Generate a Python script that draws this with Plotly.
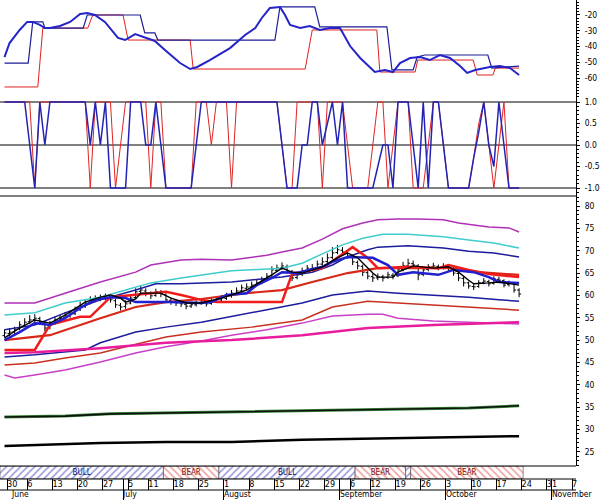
import plotly.graph_objects as go

FONT = "Liberation Sans Narrow, Arial Narrow, DejaVu Sans Condensed, Liberation Sans, sans-serif"

# ---------------- data ----------------
bars = list(range(103))
opens = [51.0,51.5,51.9,52.5,53.3,54.1,54.6,54.8,53.8,52.8, 53.7,54.4,55.0,55.5,55.9,56.8,57.5,58.4,59.0,59.3,
         59.5,59.4,58.8,57.8,57.5,58.3,59.5,60.9,61.0,60.4, 60.0,60.7,60.1,58.9,58.4,58.3,58.0,57.6,57.9,58.2,
         58.5,58.2,58.7,59.0,59.3,59.9,60.5,61.0,61.6,61.9, 62.3,62.8,63.5,64.4,65.6,66.1,66.4,65.2,64.0,64.7,
         65.6,66.0,66.2,67.0,67.6,68.5,69.6,70.1,69.6,68.7, 67.4,66.5,65.1,64.2,63.9,64.1,64.0,64.5,64.4,65.8,
         66.6,67.1,66.6,64.7,65.8,66.4,66.5,66.2,66.5,66.0, 64.9,63.8,62.8,62.0,62.0,62.9,63.1,62.7,63.6,63.3,
         62.4,62.7,61.2]
highs = [52.4,52.6,53.0,54.2,54.9,55.6,55.8,55.2,54.2,54.3, 55.3,55.6,56.3,56.6,57.5,58.6,59.0,59.8,60.0,60.2,
         60.4,59.9,59.2,58.3,58.9,60.0,61.6,62.3,61.6,60.9, 61.5,61.2,60.5,59.5,59.0,58.9,58.5,58.6,58.9,59.2,
         58.9,59.4,59.7,60.1,60.6,61.2,61.8,62.4,62.7,63.1, 63.6,64.2,65.0,66.5,66.9,67.4,66.9,65.7,65.3,66.2,
         66.8,67.0,67.8,68.5,69.4,70.8,71.3,70.8,70.1,69.0, 67.8,66.9,65.6,64.9,64.9,64.6,65.3,65.0,66.4,67.5,
         68.2,67.8,67.0,66.3,67.0,67.3,66.9,67.2,67.0,66.4, 65.4,64.2,63.1,62.7,63.4,63.9,63.5,64.3,64.2,63.6,
         63.3,63.0,61.6]
lows = [50.6,50.9,51.3,52.2,53.0,53.6,54.0,53.4,52.0,52.4, 53.4,54.0,54.6,55.0,55.6,56.5,57.2,58.0,58.5,58.7,
        58.9,58.4,57.2,56.6,57.0,58.0,59.2,60.4,59.8,59.2, 59.7,59.6,58.5,57.9,57.6,57.4,56.9,57.2,57.5,57.9,
        57.5,57.9,58.3,58.7,59.0,59.5,60.2,60.7,61.2,61.5, 62.0,62.5,63.2,64.1,65.3,65.7,64.9,63.2,63.6,64.3,
        65.2,65.5,65.9,66.7,67.2,68.1,69.2,69.0,68.2,66.8, 65.8,64.3,63.6,63.0,63.4,63.1,63.7,63.6,64.1,65.4,
        66.2,66.0,63.4,64.3,65.4,66.0,65.6,65.8,65.5,64.4, 63.2,62.0,61.5,61.2,61.7,62.5,62.0,62.4,62.9,61.8,
        62.0,60.6,59.6]
closes = [51.6,51.8,52.3,53.4,54.0,54.5,54.9,54.0,52.7,53.6, 54.5,54.9,55.4,55.8,56.7,57.6,58.3,59.0,59.2,59.4,
          59.6,59.0,57.9,57.4,58.1,59.4,60.8,61.2,60.5,59.9, 60.8,60.3,59.0,58.5,58.3,58.1,57.6,57.9,58.3,58.5,
          58.1,58.7,59.0,59.4,59.9,60.5,61.0,61.7,61.9,62.3, 62.8,63.4,64.3,65.7,66.1,66.6,65.5,63.9,64.6,65.5,
          66.1,66.1,67.0,67.5,68.4,69.5,70.2,69.7,68.8,67.5, 66.6,65.2,64.3,63.9,64.1,63.9,64.6,64.3,65.7,66.6,
          67.2,66.8,64.6,65.7,66.4,66.6,66.1,66.6,66.1,65.0, 63.9,62.8,62.1,61.9,62.8,63.2,62.6,63.7,63.4,62.3,
          62.8,61.2,60.3]

# main panel lines (bar index, value)
mag_up_x = [0,6,12,19,26,29,35,39,45,49,52,55,59,63,67,71,74,78,82,87,90,96,100,102]
mag_up_y = [58.3,58.3,60.5,63.0,65.2,66.8,67.9,68.1,67.9,68.6,69.0,69.7,70.6,72.6,74.9,76.2,76.9,77.1,77.1,76.9,76.2,75.3,75.1,74.2]
cyan_x = [0,6,12,19,24,29,35,39,45,55,59,63,67,71,75,80,87,92,97,102]
cyan_y = [55.6,56.1,58.3,59.6,61.2,62.8,63.9,64.6,65.5,66.1,67.2,69.3,71.3,72.8,73.7,73.7,73.1,72.4,71.7,70.6]
navy_up_x = [0,6,12,19,26,30,35,45,55,61,65,68,72,74,80,87,92,97,102]
navy_up_y = [52.3,53.4,56.1,59.0,61.2,62.6,62.6,63.0,64.1,65.2,66.8,68.6,70.2,70.8,71.1,70.6,69.9,69.5,68.6]
black_ma_x = [0,3,6,9,12,16,19,21,23,24,26,27,31,33,36,39,43,48,53,55,57,59,63,66,68,70,73,74,77,78,81,83,85,88,90,92,93,96,98,102]
black_ma_y = [50.5,52.7,54.5,53.8,55.6,58.5,59.6,60.1,59.4,58.5,59.2,60.5,60.5,59.4,58.3,58.3,59.4,61.2,64.6,66.1,
              65.2,65.0,66.4,68.4,69.5,68.4,65.0,64.1,64.1,65.2,66.6,66.4,66.1,66.4,65.2,63.4,62.6,62.8,63.0,62.3]
blue_ma_x = [0,3,6,9,12,15,18,21,24,26,29,33,39,41,44,48,50,53,55,58,63,65,68,73,76,78,81,84,86,89,93,96,98,102]
blue_ma_y = [50.0,51.8,53.8,53.4,54.9,57.2,59.0,59.6,59.4,58.5,58.5,58.5,58.3,58.5,60.1,60.5,62.3,63.9,65.2,65.0,
             66.4,67.5,68.6,68.4,66.8,64.6,65.2,64.8,64.6,65.7,65.2,64.1,63.0,62.8]
red_step_x = [0,6,9,15,17,21,29,32,35,39,42,55,57,63,69,72,74,80,86,88,92,96,102]
red_step_y = [47.8,47.8,53.4,55.2,55.2,59.6,60.5,60.8,60.1,59.0,58.5,58.5,64.8,66.1,70.8,68.4,66.1,66.4,66.1,66.8,65.7,64.8,64.1]
red_slow_x = [0,9,19,26,32,39,48,55,61,68,74,81,88,94,102]
red_slow_y = [50.0,51.1,54.9,57.4,58.5,59.2,60.5,61.2,63.0,65.0,66.1,66.1,66.1,65.2,64.6]
navy_lo_x = [0,6,16,19,26,32,39,49,59,65,72,78,85,92,98,102]
navy_lo_y = [46.2,46.7,47.8,49.4,51.8,52.9,54.0,56.1,58.3,60.1,61.0,60.5,60.1,59.6,59.0,58.7]
red_lo_x = [0,6,12,19,24,32,39,49,59,65,72,78,85,92,102]
red_lo_y = [44.4,44.9,46.0,47.1,48.5,50.7,51.8,52.9,54.5,57.4,58.7,58.3,57.9,57.4,56.7]
pink_lo_x = [0,2,6,12,19,26,32,39,45,52,59,65,72,75,78,85,92,102]
pink_lo_y = [42.2,41.5,42.2,43.3,45.1,47.1,48.5,49.8,51.1,52.3,53.8,55.4,55.8,55.8,54.9,54.3,54.0,53.6]
mag_lo_x = [0,6,19,32,45,52,59,72,85,102]
mag_lo_y = [47.1,47.3,48.2,49.4,50.0,50.5,51.1,52.7,53.4,54.0]
green_x = [0,12,21,32,45,59,78,92,102]
green_y = [32.8,33.0,33.5,33.7,33.9,34.1,34.6,34.8,35.3]
black_lo_x = [0,6,19,32,45,59,72,85,93,102]
black_lo_y = [26.3,26.5,27.0,27.2,27.2,27.7,27.9,28.1,28.3,28.5]

# top panel oscillator
wr_x = [0,1,3,4.5,5.6,7,8,9,11,13,15,16.4,17.9,19.9,22.5,23.9,25.9,27.8,29.8,31.8,34.8,36.8,38.2,40.7,44.7,
        47.7,49.7,51,52.6,54.6,55.6,56.6,58.6,60.5,62.5,64.5,66.5,68.5,70.5,73.4,75.4,77,78.4,80.4,82.4,
        84.3,86.3,88.3,90.3,91.7,93.3,96.2,98.2,100.2,102]
wr_y = [-46.7,-37.8,-29.5,-24.4,-24.4,-26.3,-28.3,-28.3,-27.0,-24.4,-19.4,-18.7,-20.0,-24.4,-34.6,-35.9,-32.1,
        -34.0,-36.5,-42.2,-50.5,-54.3,-53.0,-48.6,-41.0,-32.7,-28.3,-21.9,-15.6,-14.9,-20.0,-26.3,-28.3,-27.0,
        -29.5,-28.3,-28.3,-39.7,-47.3,-56.2,-54.9,-56.2,-50.5,-47.3,-46.7,-48.6,-45.4,-47.3,-52.4,-56.8,-54.9,
        -53.0,-52.4,-53.7,-58.1]
wr_hi_x = [0,4.7,5.6,7.6,8.0,15.6,16.4,26.9,27.8,29.8,30.4,53.6,54.6,61.5,62.5,75.8,76.8,81.0,81.8,83.3,95.8,96.6,102]
wr_hi_y = [-50.5,-50.5,-24.4,-24.4,-28.3,-28.3,-20.0,-20.0,-31.4,-31.4,-35.9,-35.9,-14.9,-14.9,-27.6,-27.6,
           -54.9,-54.9,-46.7,-45.4,-45.4,-53.7,-52.4]
wr_lo_x = [0,6.6,7.6,16.5,17.5,23.5,24.5,36.8,37.4,59.6,61.0,73.8,74.4,81.4,81.9,92.9,93.7,96.8,97.3,102]
wr_lo_y = [-65.7,-65.7,-28.3,-28.3,-20.0,-20.0,-35.9,-35.9,-54.3,-54.3,-29.5,-29.5,-56.2,-56.2,-48.6,-48.6,
           -58.1,-58.1,-53.7,-53.7]

# middle panel signals (per bar)
sig_blue = [1,1,1,1,1,0,-1,1,0,1, 1,1,1,1,1,1,1,0,1,0, 1,-1,-1,-1,-1,1,1,1,0,0,
            1,0,-1,-1,-1,-1,-1,-1,0,1, 1,1,1,1,1,1,1,1,1,1, 1,1,1,1,1,0,-1,-1,-1,0,
            0,1,1,0,0.5,1,0,1,-1,-1, -1,-1,-1,-1,-0.5,0,0,-1,1,1, 1,0,-1,1,-1,1,1,0,-1,-1,
            -1,-1,-1,-0.3,0.3,1,0,-0.5,1,0, -1,-1,-1]
sig_red = [1,1,1,1,1,1,-1,1,1,1, 1,1,1,1,1,1,1,-1,1,1, 1,1,-1,0,1,1,1,1,1,-1,
           1,1,-1,-1,-1,-1,-1,-1,1,1, 1,0,1,1,1,-1,1,1,1,1, 1,1,1,1,1,0,-1,-1,1,1,
           1,1,1,-1,1,1,1,1,0,-1, -1,-1,-1,0,1,1,-1,0,1,1, 1,-1,-1,-1,0,1,1,0,-1,-1,
           -1,-1,-1,-0.3,0.5,1,0,-1,0,1, -1,-1,-1]

# bull / bear strip
seg_start = [-0.9, 31.5, 42.5, 69.5, 79.5, 80.5]
seg_end = [31.5, 42.5, 69.5, 79.5, 80.5, 102.8]
seg_state = ["BULL", "BEAR", "BULL", "BEAR", "BULL", "BEAR"]

# date axis
week_bars = [1,5,10,15,20,25,29,34,39,44,49,54,59,64,69,73,78,83,88,93,98,103,108,113]
week_labels = ["30","6","13","20","27","5","11","18","25","1","8","15","22","29",
               "6","12","19","26","3","10","17","24","31","7"]
month_bars = [2,24,44,67,88,109]
month_labels = ["June","July","August","September","October","November"]

# axis tick labels
wr_ticks = [-20, -30, -40, -50, -60]
wr_ticktext = ["-20", "-30", "-40", "-50", "-60"]
sig_ticks = [1, 0.5, 0, -0.5, -1]
sig_ticktext = ["1.0", "0.5", "0.0", "-0.5", "-1.0"]
price_ticks = [25, 30, 35, 40, 45, 50, 55, 60, 65, 70, 75, 80]

XR = [-0.892, 113.28]

# ---------------- figure ----------------
fig = go.Figure()

def line(x, y, color, width, axis):
    fig.add_trace(go.Scatter(x=x, y=y, mode="lines", line=dict(color=color, width=width),
                             xaxis="x", yaxis=axis, hoverinfo="skip", showlegend=False))

# top panel
line(wr_lo_x, wr_lo_y, "#e02020", 1, "y")
line(wr_hi_x, wr_hi_y, "#1e1e96", 1.2, "y")
line(wr_x, wr_y, "#2424c8", 2, "y")

# middle panel
line(bars, sig_red, "#e02424", 1, "y2")
line(bars, sig_blue, "#2424b4", 1.5, "y2")

# main panel bands
line(mag_up_x, mag_up_y, "#b030b8", 1.5, "y3")
line(cyan_x, cyan_y, "#40cccc", 1.5, "y3")
line(navy_up_x, navy_up_y, "#1c1c9c", 1.5, "y3")
line(pink_lo_x, pink_lo_y, "#c840c8", 1.5, "y3")
line(red_lo_x, red_lo_y, "#c83020", 1.5, "y3")
line(navy_lo_x, navy_lo_y, "#1c1c9c", 1.5, "y3")
line(mag_lo_x, mag_lo_y, "#e81c9c", 2.5, "y3")
line(green_x, green_y, "#3c8c3c", 3, "y3")
line(green_x, green_y, "#101010", 1.6, "y3")
line(black_lo_x, black_lo_y, "#000000", 2.5, "y3")
line(red_slow_x, red_slow_y, "#d82818", 2.2, "y3")
line(red_step_x, red_step_y, "#f01c1c", 2.5, "y3")
line(blue_ma_x, blue_ma_y, "#2020d0", 2.5, "y3")
line(black_ma_x, black_ma_y, "#000000", 1.4, "y3")

fig.add_trace(go.Ohlc(x=bars, open=opens, high=highs, low=lows, close=closes,
                      increasing=dict(line=dict(color="black", width=1)),
                      decreasing=dict(line=dict(color="black", width=1)),
                      tickwidth=0.4, xaxis="x", yaxis="y3", hoverinfo="skip", showlegend=False))

# strip
centers = [(a + b) / 2 for a, b in zip(seg_start, seg_end)]
widths = [b - a for a, b in zip(seg_start, seg_end)]
shapes_p = ["/" if s == "BULL" else "\\" for s in seg_state]
fg = ["#2c2cb8" if s == "BULL" else "#e03c3c" for s in seg_state]
txt = [s if w > 5 else "" for s, w in zip(seg_state, widths)]
tcol = ["#101060" if s == "BULL" else "#801010" for s in seg_state]
fig.add_trace(go.Bar(x=centers, y=[1] * len(centers), base=0, width=widths,
                     marker=dict(color="white",
                                 pattern=dict(shape=shapes_p, fgcolor=fg, bgcolor="white",
                                              size=5, solidity=0.3),
                                 line=dict(color="#404040", width=0.6)),
                     text=txt, textposition="inside", insidetextanchor="middle",
                     textangle=0, constraintext="none",
                     textfont=dict(size=8, color=tcol, family=FONT),
                     xaxis="x", yaxis="y4", hoverinfo="skip", showlegend=False))

# date labels
fig.add_trace(go.Scatter(x=[b - 0.5 for b in week_bars], y=[0.5] * len(week_bars),
                         mode="text", text=week_labels, textposition="middle right",
                         textfont=dict(size=9, family=FONT, color="black"),
                         xaxis="x", yaxis="y5", hoverinfo="skip", showlegend=False,
                         cliponaxis=False))
fig.add_trace(go.Scatter(x=[b - 0.5 for b in month_bars], y=[0.5] * len(month_bars),
                         mode="text", text=month_labels, textposition="middle right",
                         textfont=dict(size=8.5, family=FONT, color="black"),
                         xaxis="x2", yaxis="y6", hoverinfo="skip", showlegend=False,
                         cliponaxis=False))

row_ticks = sorted(set([b - 0.5 for b in week_bars] + [b - 0.5 for b in month_bars[1:]]))

ax_common = dict(side="right", anchor="x", showline=True, linecolor="black", linewidth=1,
                 ticks="outside", ticklen=3, tickcolor="black", showgrid=False, zeroline=False,
                 tickfont=dict(size=8.5, family=FONT, color="black"), automargin=False,
                 ticklabelstandoff=3, fixedrange=True)

fig.update_layout(
    width=600, height=500,
    margin=dict(l=0, r=24, t=0, b=0),
    paper_bgcolor="white", plot_bgcolor="white",
    showlegend=False, hovermode=False, bargap=0,
    font=dict(family=FONT, size=9, color="black"),
    xaxis=dict(domain=[0, 1], range=XR, anchor="y5", showgrid=False, zeroline=False,
               tickmode="array", tickvals=row_ticks, ticks="inside", ticklen=11,
               tickcolor="black", tickwidth=1, showticklabels=False, showline=False,
               rangeslider=dict(visible=False), fixedrange=True),
    xaxis2=dict(domain=[0, 1], range=XR, anchor="y6", showgrid=False, zeroline=False,
                tickmode="array", tickvals=[b - 0.5 for b in month_bars[1:]], ticks="inside",
                ticklen=10, tickcolor="black", tickwidth=1, showticklabels=False,
                showline=False, fixedrange=True),
    yaxis=dict(domain=[0.8, 1.0], range=[-73.97, -10.48],
               tickmode="array", tickvals=wr_ticks, ticktext=wr_ticktext,
               minor=dict(dtick=2, ticks="outside", ticklen=2, tickcolor="black", showgrid=False),
               **ax_common),
    yaxis2=dict(domain=[0.608, 0.8], range=[-1.186, 1.0465],
                tickmode="array", tickvals=sig_ticks, ticktext=sig_ticktext,
                minor=dict(dtick=0.1, ticks="outside", ticklen=2, tickcolor="black", showgrid=False),
                **ax_common),
    yaxis3=dict(domain=[0.068, 0.608], range=[21.83, 82.24],
                tickmode="array", tickvals=price_ticks,
                minor=dict(dtick=1, ticks="outside", ticklen=2, tickcolor="black", showgrid=False),
                **ax_common),
    yaxis4=dict(domain=[0.042, 0.068], range=[0, 1], anchor="x", visible=False, fixedrange=True),
    yaxis5=dict(domain=[0.02, 0.042], range=[0, 1], anchor="x", visible=False, fixedrange=True),
    yaxis6=dict(domain=[0.0, 0.02], range=[0, 1], anchor="x2", visible=False, fixedrange=True),
)

# reference lines of the signal panel and panel separators
for lvl in [1, 0, -1]:
    fig.add_shape(type="line", xref="paper", yref="y2", x0=0, x1=1, y0=lvl, y1=lvl,
                  line=dict(color="black", width=1), layer="below")
for yp in [0.608, 0.068, 0.042, 0.02]:
    fig.add_shape(type="line", xref="paper", yref="paper", x0=0, x1=1, y0=yp, y1=yp,
                  line=dict(color="black", width=1))

fig.write_html("out.html", config={"displayModeBar": False, "staticPlot": True},
               post_script="document.body.style.margin='0';document.body.style.overflow='hidden';")
